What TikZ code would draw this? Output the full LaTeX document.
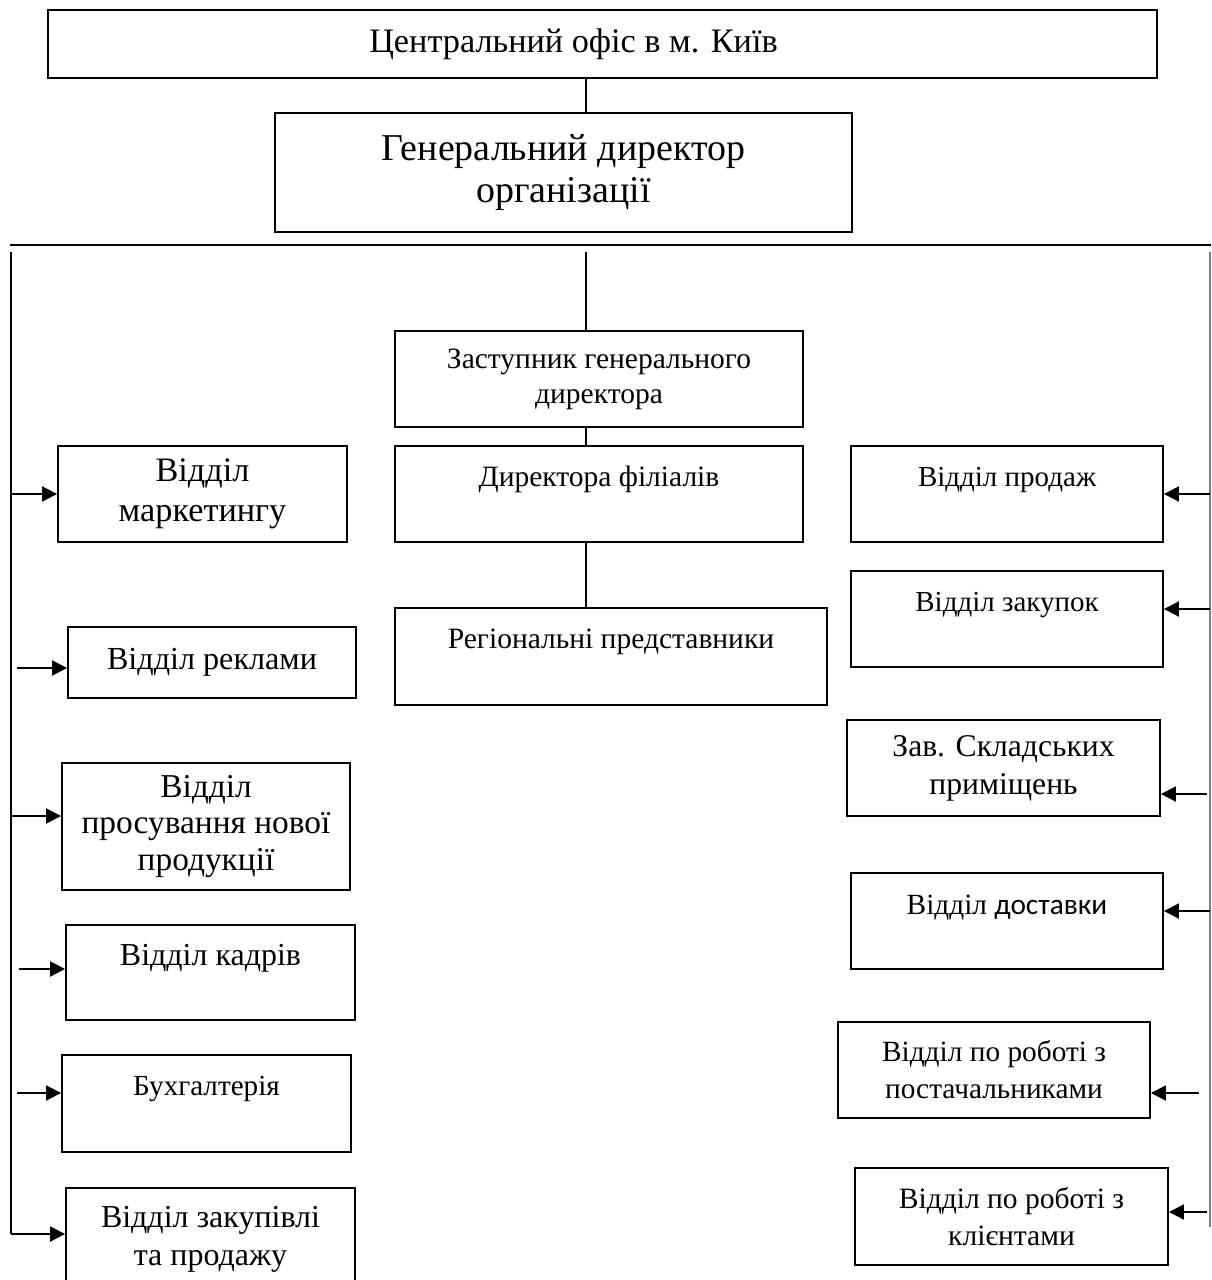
\documentclass[tikz,border=0pt]{standalone}
\usepackage{fontspec}
\setmainfont{Liberation Serif}
\newfontfamily\sansdept{Carlito}
\usetikzlibrary{arrows.meta,positioning}
\newcommand{\fsz}[2]{\fontsize{#1pt}{#2pt}\selectfont}

\begin{document}
\begin{tikzpicture}[
  x=0.02cm, y=-0.02cm,
  box/.style={draw, line width=1.1pt, align=center, inner sep=2pt},
  link/.style={line width=1.1pt},
  arr/.style={-{Triangle[length=0.3cm, width=0.3cm]}, line width=1.1pt},
]
\useasboundingbox (0,0) rectangle (1211,1280);

% --- Top of the chart ---
\node[box, minimum width=22.18cm, minimum height=1.36cm, font=\fsz{19.5}{24}] (office) at (602.5,44) {Центральний офіс в м. Київ\hspace*{1.16cm}};
\node[box, minimum width=11.54cm, minimum height=2.38cm, font=\fsz{21.6}{24}] (gen) at (563.5,172.5) {Генеральний директор\\організації};

\coordinate (hl) at (10,245);
\coordinate (hr) at (1211,245);
\draw[line width=1.5pt] (hl) -- (hr);

% --- Centre column ---
\node[box, minimum width=8.16cm, minimum height=1.92cm, font=\fsz{16.8}{20}] (dep) at (599,379) {Заступник генерального\\директора};
\node[box, minimum width=8.16cm, minimum height=1.92cm, font=\fsz{16.8}{20}] (dir) at (599,494) {Директора філіалів\\~};
\node[box, minimum width=8.64cm, minimum height=1.94cm, font=\fsz{16.8}{20}] (reg) at (611,656.5) {Регіональні представники\\~};

\coordinate (spine) at (586,252);
\draw[link] (office.south -| spine) -- (gen.north -| spine);
\draw[link] (spine) -- (dep.north -| spine);
\draw[link] (dep.south -| spine) -- (dir.north -| spine);
\draw[link] (dir.south -| spine) -- (reg.north -| spine);

% --- Left column ---
\node[box, minimum width=5.78cm, minimum height=1.92cm, font=\fsz{19.5}{22.7}] (mkt) at (202.5,494) {Відділ\\маркетингу};
\node[box, minimum width=5.76cm, minimum height=1.42cm, font=\fsz{18.3}{21}] (adv) at (212,662.5) {Відділ реклами};
\node[box, minimum width=5.76cm, minimum height=2.54cm, font=\fsz{19}{20.7}] (promo) at (206,826.5) {Відділ\\просування нової\\продукції};
\node[box, minimum width=5.78cm, minimum height=1.90cm, font=\fsz{18.2}{20}] (hr) at (210.5,972.5) {Відділ кадрів\\~};
\node[box, minimum width=5.78cm, minimum height=1.94cm, font=\fsz{16.6}{20}] (acc) at (206.5,1103.5) {Бухгалтерія\\~};
\node[box, minimum width=5.78cm, minimum height=2.06cm, font=\fsz{18.2}{21.5}] (trade) at (210.5,1239.5) {Відділ закупівлі\\та продажу};

\coordinate (ltop) at (11,252);
\foreach \n/\x/\y in {mkt/11/494, adv/17/668, promo/11/816, hr/19/969, acc/17/1093, trade/11/1234}{
  \coordinate (a\n) at (\x,\y);
  \draw[arr] (a\n) -- (a\n -| \n.west);
}
\draw[link] (ltop) -- (atrade);

% --- Right column ---
\node[box, minimum width=6.24cm, minimum height=1.92cm, font=\fsz{16.5}{19}] (sales) at (1007,494) {Відділ продаж\\~};
\node[box, minimum width=6.24cm, minimum height=1.92cm, font=\fsz{16.5}{19}] (purch) at (1007,619) {Відділ закупок\\~};
\node[box, minimum width=6.26cm, minimum height=1.92cm, font=\fsz{18}{21.5}] (store) at (1003.5,768) {Зав. Складських\\приміщень};
\node[box, minimum width=6.24cm, minimum height=1.92cm, font=\fsz{16.7}{19}] (deliv) at (1007,921) {Відділ {\sansdept доставки}\\~};
\node[box, minimum width=6.24cm, minimum height=1.92cm, font=\fsz{16.7}{21}] (suppl) at (994,1070) {Відділ по роботі з\\постачальниками};
\node[box, minimum width=6.26cm, minimum height=1.94cm, font=\fsz{16.8}{21.5}] (client) at (1011.5,1216.5) {Відділ по роботі з\\клієнтами};

\coordinate (rtop) at (1210,252);
\coordinate (rbot) at (1210,1227);
\draw[gray, line width=0.7pt] (rtop) -- (rbot);
\foreach \n/\x/\y in {sales/1210/494, purch/1210/609, store/1207/794, deliv/1210/911, suppl/1199/1093, client/1207/1212}{
  \coordinate (a\n) at (\x,\y);
  \draw[arr] (a\n) -- (a\n -| \n.east);
}
\end{tikzpicture}
\end{document}
